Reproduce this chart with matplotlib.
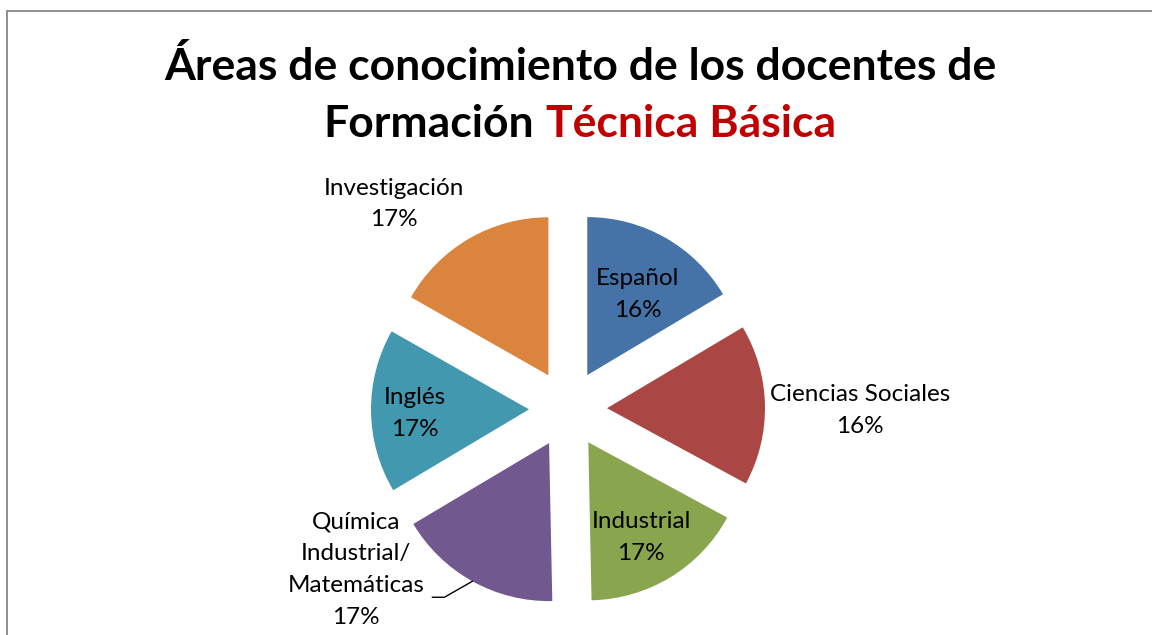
import numpy as np
import matplotlib
matplotlib.use('Agg')
from matplotlib import pyplot as plt
from matplotlib.patches import Rectangle

# áreas y porcentajes
areas = ['Español', 'Ciencias Sociales', 'Industrial',
         'Química\nIndustrial/\nMatemáticas', 'Inglés', 'Investigación']
valores = [16.45, 16.45, 16.775, 16.775, 16.775, 16.775]
colores = ['#4572A7', '#AA4643', '#89A54E', '#71588F', '#4198AF', '#DB843D']

# posición de cada etiqueta respecto al centro de su porción: (radio, ángulo)
pos_etiquetas = [(0.60, 58), (1.60, -0.5), (0.69, -61),
                 (1.46, -146.7), (0.72, 182), (1.46, 132)]

W, H = 1152, 635
fig = plt.figure(figsize=(W / 100, H / 100), dpi=100)
ax = fig.add_axes([0, 0, 1, 1])

centro = (568, 226)
radio = 158
separacion = 39
wedges, _ = ax.pie(valores, colors=colores, startangle=90, counterclock=False,
                   explode=[separacion] * len(valores), radius=radio,
                   center=centro, frame=True, wedgeprops=dict(linewidth=0))
ax.set_xlim(0, W)
ax.set_ylim(0, H)
ax.axis('off')

fuente = 'Lato'
total = sum(valores)
for w, nombre, v, (rf, ang) in zip(wedges, areas, valores, pos_etiquetas):
    cx, cy = w.center
    x = cx + rf * radio * np.cos(np.radians(ang))
    y = cy + rf * radio * np.sin(np.radians(ang))
    ax.text(x, y, '%s\n%d%%' % (nombre, round(v / total * 100)),
            ha='center', va='center', fontsize=17.5, family=fuente,
            linespacing=1.62, color='black')

# línea guía de Química Industrial/Matemáticas
w = wedges[3]
medio = np.radians((w.theta1 + w.theta2) / 2)
x_fin = w.center[0] + radio * np.cos(medio)
y_fin = w.center[1] + radio * np.sin(medio)
ax.plot([x_fin, x_fin - 28, x_fin - 40], [y_fin, y_fin - 16, y_fin - 16],
        color='black', lw=1)

# título
t1 = ax.text(580, 568, 'Áreas de conocimiento de los docentes de', ha='center',
             va='center', fontsize=32, fontweight='bold', family=fuente)
ta = ax.text(0, 511, 'Formación', ha='left', va='center', fontsize=32,
             fontweight='bold', family=fuente)
tb = ax.text(0, 511, 'Técnica Básica', ha='left', va='center', fontsize=32,
             fontweight='bold', family=fuente, color='#C00000')
fig.canvas.draw()
r = fig.canvas.get_renderer()
wa = ta.get_window_extent(r).width
wb = tb.get_window_extent(r).width
hueco = 12
x0 = 580 - (wa + hueco + wb) / 2
ta.set_x(x0)
tb.set_x(x0 + wa + hueco)

# marco del gráfico
fig.patches.append(Rectangle((7, -20), W, H - 11 + 20, transform=None,
                             fill=False, edgecolor='#878787', lw=1.3))

fig.savefig('out.png', dpi=100)
